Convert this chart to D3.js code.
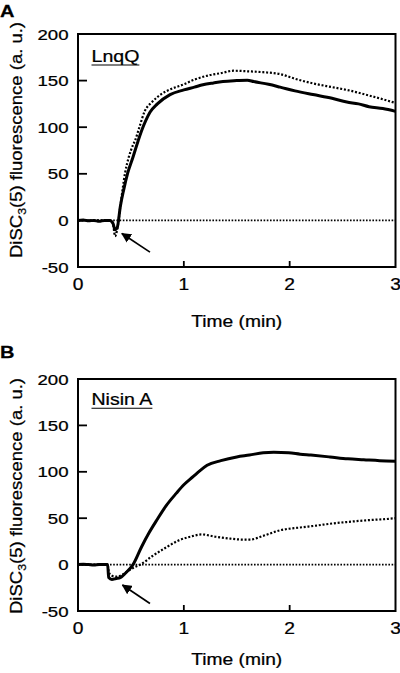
<!DOCTYPE html>
<html>
<head>
<meta charset="utf-8">
<script src="https://cdn.jsdelivr.net/npm/d3@7"></script>
<style>
  html, body { margin: 0; padding: 0; background: #fff; }
  svg { display: block; }
  text { font-family: "Liberation Sans", Arial, Helvetica, sans-serif; fill: #000; stroke: #000; stroke-width: 0.25; }
</style>
</head>
<body>
<svg id="chart" width="400" height="673"></svg>
<script>
// ---------------- DATA ----------------
const xTickValues = [0, 1, 2, 3];
const yTickValues = [-50, 0, 50, 100, 150, 200];
const xTitle = "Time (min)";
const panelLetters = ["A", "B"];
const panelNames = ["LnqQ", "Nisin A"];

// Panel A (LnqQ) – solid trace
const aSolidTime = [0, 0.05, 0.1, 0.15, 0.2, 0.25, 0.3, 0.33, 0.35, 0.37, 0.40, 0.43, 0.47, 0.52, 0.57, 0.60, 0.64, 0.68, 0.75, 0.87, 1.0, 1.1, 1.18, 1.28, 1.37, 1.5, 1.6, 1.66, 1.8, 1.91, 2.05, 2.22, 2.4, 2.54, 2.65, 2.75, 2.88, 3.0];
const aSolidValue = [0, 0.5, -0.5, 0, -1, 0, 0, -3, -10, -8, 15, 32, 51, 68, 86, 96, 107, 116, 125, 135, 140, 143, 145.5, 147.5, 149, 150, 150.5, 149, 146, 143, 139, 135, 131, 127, 125, 122, 120, 117];
// Panel A (LnqQ) – dotted trace
const aDotTime = [0, 0.1, 0.2, 0.3, 0.33, 0.35, 0.37, 0.40, 0.445, 0.48, 0.52, 0.54, 0.58, 0.63, 0.7, 0.78, 0.88, 0.99, 1.1, 1.25, 1.35, 1.47, 1.6, 1.75, 1.91, 2.05, 2.22, 2.4, 2.54, 2.75, 2.88, 3.0];
const aDotValue = [0, 0, 0, 0, -3, -17, -10, 15, 51, 68, 81, 86, 100, 117, 127, 135, 141, 145.6, 151, 156, 158, 160.6, 160, 159, 157, 152, 147, 143, 140, 134, 130, 126];

// Panel B (Nisin A) – solid trace
const bSolidTime = [0, 0.05, 0.1, 0.15, 0.2, 0.25, 0.28, 0.29, 0.32, 0.36, 0.40, 0.45, 0.52, 0.60, 0.67, 0.745, 0.83, 0.93, 1.0, 1.09, 1.15, 1.22, 1.35, 1.5, 1.62, 1.75, 1.85, 1.99, 2.1, 2.2, 2.38, 2.55, 2.7, 2.85, 3.0];
const bSolidValue = [0, 0.5, 0, -0.5, 0, 0, 0, -14, -16, -15, -14, -9, 0, 19, 34, 48, 63, 77, 86, 95, 101, 107, 112, 116, 118, 120.5, 121, 120.5, 119, 118, 116, 114, 113, 112, 111.5];
// Panel B (Nisin A) – dotted trace
const bDotTime = [0, 0.1, 0.2, 0.28, 0.29, 0.32, 0.36, 0.40, 0.47, 0.53, 0.59, 0.7, 0.84, 0.95, 1.06, 1.17, 1.3, 1.44, 1.55, 1.63, 1.75, 1.91, 2.1, 2.25, 2.38, 2.55, 2.76, 2.9, 3.0];
const bDotValue = [0, 0, 0, 0, -8, -12, -13, -12, -7, -3, 0, 9, 19, 26, 30, 32.5, 30, 28, 27, 27, 31, 37, 40, 42, 44, 46, 48, 49, 50];

// Arrow annotations (data units: [time, value] tail -> tip)
const aArrow = [[0.68, -34], [0.415, -14]];
const bArrow = [[0.68, -42], [0.42, -22]];

// ---------------- LAYOUT ----------------
const svg = d3.select("#chart");
const SX = 1.2; // horizontal text stretch of the original figure

const panels = [
  { letter: panelLetters[0], name: panelNames[0], top: 34, bottom: 267, letterY: 16.7, nameY: 61.7, titleY: 326.5, yTitleC: 140,
    solid: aSolidTime.map((t, i) => [t, aSolidValue[i]]), dot: aDotTime.map((t, i) => [t, aDotValue[i]]), arrow: aArrow },
  { letter: panelLetters[1], name: panelNames[1], top: 379, bottom: 611, letterY: 357.5, nameY: 405, titleY: 665, yTitleC: 496,
    solid: bSolidTime.map((t, i) => [t, bSolidValue[i]]), dot: bDotTime.map((t, i) => [t, bDotValue[i]]), arrow: bArrow }
];

const left = 78, right = 395.5;

const defs = svg.append("defs");
defs.append("marker").attr("id", "arrowhead")
  .attr("viewBox", "0 0 10 10").attr("refX", 9).attr("refY", 5)
  .attr("markerWidth", 10).attr("markerHeight", 10).attr("markerUnits", "userSpaceOnUse")
  .attr("orient", "auto")
  .append("path").attr("d", "M0,0 L10,5 L0,10 Z").attr("fill", "#000");

function hText(parent, x, y, str, size, anchor, weight, sx) {
  const g = parent.append("g").attr("transform", `translate(${x},${y}) scale(${sx || SX},1)`);
  return g.append("text").attr("x", 0).attr("y", 0)
    .attr("font-size", size).attr("text-anchor", anchor || "start")
    .attr("font-weight", weight || "normal").text(str);
}

panels.forEach(p => {
  const x = d3.scaleLinear().domain([0, 3]).range([left, right]);
  const y = d3.scaleLinear().domain([-50, 200]).range([p.bottom, p.top]);
  const g = svg.append("g");

  // zero reference (dotted)
  g.append("line")
    .attr("x1", x(0)).attr("x2", x(3)).attr("y1", y(0)).attr("y2", y(0))
    .attr("stroke", "#000").attr("stroke-width", 1.6).attr("stroke-dasharray", "1.6,1.6");

  const line = d3.line().x(d => x(d[0])).y(d => y(d[1])).curve(d3.curveMonotoneX);

  // dotted trace
  g.append("path").datum(p.dot).attr("d", line)
    .attr("fill", "none").attr("stroke", "#000").attr("stroke-width", 2.2)
    .attr("stroke-dasharray", "2,1.8");
  // solid trace
  g.append("path").datum(p.solid).attr("d", line)
    .attr("fill", "none").attr("stroke", "#000").attr("stroke-width", 3)
    .attr("stroke-linejoin", "round");

  // axes (ticks inside)
  const yAxis = d3.axisLeft(y).tickValues(yTickValues).tickSize(0).tickFormat("");
  g.append("g").attr("transform", `translate(${left},0)`).call(yAxis).call(s => s.select(".domain").remove());
  g.selectAll(".ytick").data(yTickValues.slice(1, -1)).enter().append("line")
    .attr("x1", left).attr("x2", left + 9).attr("y1", d => y(d)).attr("y2", d => y(d))
    .attr("stroke", "#000").attr("stroke-width", 1.8);
  g.selectAll(".xtick").data(xTickValues.slice(1, -1)).enter().append("line")
    .attr("x1", d => x(d)).attr("x2", d => x(d)).attr("y1", p.bottom).attr("y2", p.bottom - 6)
    .attr("stroke", "#000").attr("stroke-width", 1.8);

  // frame
  g.append("rect").attr("x", left).attr("y", p.top)
    .attr("width", right - left).attr("height", p.bottom - p.top)
    .attr("fill", "none").attr("stroke", "#000").attr("stroke-width", 2);

  // tick labels
  yTickValues.forEach(v => hText(g, 68.5, y(v) + 5.5, String(v), 15.5, "end"));
  xTickValues.forEach(v => hText(g, x(v), p.bottom + 23, String(v), 16, "middle"));

  // x title
  hText(g, (left + right) / 2, p.titleY, xTitle, 16, "middle");

  // y title (rotated)
  const yt = g.append("text")
    .attr("transform", `translate(22,${p.yTitleC}) rotate(-90)`)
    .attr("text-anchor", "middle").attr("font-size", 16.5)
    .attr("textLength", 236).attr("lengthAdjust", "spacingAndGlyphs");
  yt.append("tspan").text("DiSC");
  yt.append("tspan").attr("font-size", 11).attr("dy", 4).text("3");
  yt.append("tspan").attr("dy", -4).text("(5) fluorescence (a. u.)");

  // panel letter
  hText(g, 0, p.letterY, p.letter, 16, "start", "bold", 1.25);

  // inner name, underlined
  const nt = hText(g, 91.5, p.nameY, p.name, 16.3, "start");
  const w = nt.node().getComputedTextLength() * SX;
  g.append("line").attr("x1", 91.5).attr("x2", 91.5 + w)
    .attr("y1", p.nameY + 3.3).attr("y2", p.nameY + 3.3)
    .attr("stroke", "#000").attr("stroke-width", 1.1);

  // arrow
  g.append("line")
    .attr("x1", x(p.arrow[0][0])).attr("y1", y(p.arrow[0][1]))
    .attr("x2", x(p.arrow[1][0])).attr("y2", y(p.arrow[1][1]))
    .attr("stroke", "#000").attr("stroke-width", 1.7)
    .attr("marker-end", "url(#arrowhead)");
});
</script>
</body>
</html>
